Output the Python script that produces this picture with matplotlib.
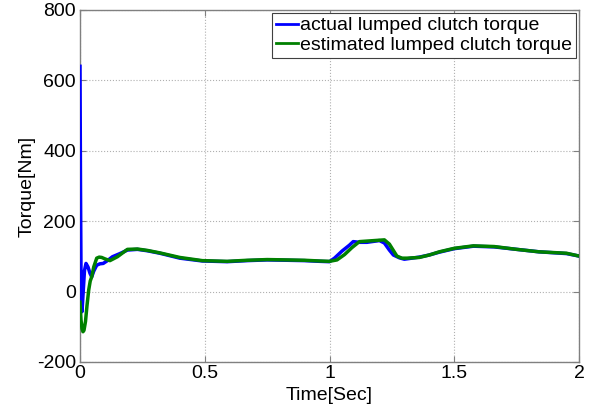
import matplotlib
matplotlib.use("Agg")
import matplotlib.pyplot as plt
import numpy as np

plt.rcParams['font.family'] = ['Liberation Sans', 'DejaVu Sans']

# actual lumped clutch torque
t_actual = [0.0, 0.002, 0.004, 0.008, 0.012, 0.018, 0.024, 0.032, 0.040, 0.047, 0.055, 0.067,
            0.080, 0.093, 0.11, 0.13, 0.16, 0.19, 0.23, 0.27, 0.32, 0.40, 0.49, 0.59, 0.67,
            0.75, 0.83, 0.90, 0.96, 1.00, 1.02, 1.05, 1.08, 1.095, 1.12, 1.15, 1.20, 1.22,
            1.24, 1.256, 1.28, 1.30, 1.33, 1.36, 1.40, 1.44, 1.50, 1.577, 1.66, 1.75, 1.84,
            1.95, 2.0]
y_actual = [640, 300, 60, -57, -10, 60, 80, 70, 52, 42, 58, 75,
            79, 80, 88, 99, 108, 118, 120, 116, 109, 95, 87, 85, 88,
            90, 89, 88, 86, 85, 95, 115, 132, 142, 140, 140, 145, 138,
            118, 104, 96, 92, 95, 98, 104, 112, 122, 129, 127, 120, 113,
            108, 101]

# estimated lumped clutch torque
t_est = [0.0, 0.004, 0.008, 0.012, 0.016, 0.022, 0.028, 0.035, 0.041, 0.047, 0.055, 0.067,
         0.077, 0.087, 0.10, 0.12, 0.15, 0.19, 0.23, 0.27, 0.32, 0.40, 0.49, 0.59, 0.67,
         0.75, 0.83, 0.90, 0.96, 1.00, 1.03, 1.06, 1.09, 1.12, 1.16, 1.20, 1.22, 1.24,
         1.27, 1.29, 1.31, 1.36, 1.40, 1.44, 1.50, 1.577, 1.66, 1.75, 1.84, 1.95, 2.0]
y_est = [-30, -80, -105, -114, -110, -85, -40, 5, 30, 42, 70, 95,
         98, 97, 93, 88, 99, 120, 121, 117, 110, 97, 88, 86, 89,
         91, 90, 89, 87, 86, 90, 105, 125, 142, 144, 146, 147, 135,
         101, 95, 95, 97, 104, 113, 123, 130, 128, 120, 113, 109, 101]

x_ticks = [0, 0.5, 1, 1.5, 2]
x_tick_labels = ['0', '0.5', '1', '1.5', '2']
y_ticks = [-200, 0, 200, 400, 600, 800]
y_tick_labels = ['-200', '0', '200', '400', '600', '800']

fig = plt.figure(figsize=(6.02, 4.12), dpi=100)
ax = fig.add_axes([80/602, 50/412, 499/602, 352/412])

ax.plot(t_actual, y_actual, color='#0000ff', lw=2.5, zorder=3,
        label='actual lumped clutch torque')
ax.plot(t_est, y_est, color='#008000', lw=2.5, zorder=3,
        label='estimated lumped clutch torque')

ax.set_xlim(0, 2)
ax.set_ylim(-200, 800)
ax.set_xticks(x_ticks)
ax.set_xticklabels(x_tick_labels)
ax.set_yticks(y_ticks)
ax.set_yticklabels(y_tick_labels)
ax.tick_params(direction='in', top=True, right=True, labelsize=14, length=4,
               color='#808080', pad=3)
ax.tick_params(axis='x', pad=2)
for s in ax.spines.values():
    s.set_color('#808080')
    s.set_linewidth(1.0)
ax.grid(True, linestyle=':', color='#b0b0b0', linewidth=0.8)

ax.set_xlabel('Time[Sec]', fontsize=14, labelpad=4)
ax.set_ylabel('Torque[Nm]', fontsize=14, labelpad=1)

leg = ax.legend(loc='upper right', fontsize=14, frameon=True, fancybox=False,
                edgecolor='#404040', framealpha=1, handlelength=1.15, handletextpad=0.1,
                borderpad=0.2, labelspacing=0.1, borderaxespad=0.15)
leg.set_zorder(5)
leg.get_frame().set_linewidth(0.8)
for ln in leg.get_lines():
    ln.set_linewidth(2.0)

fig.savefig('out.png', dpi=100)
